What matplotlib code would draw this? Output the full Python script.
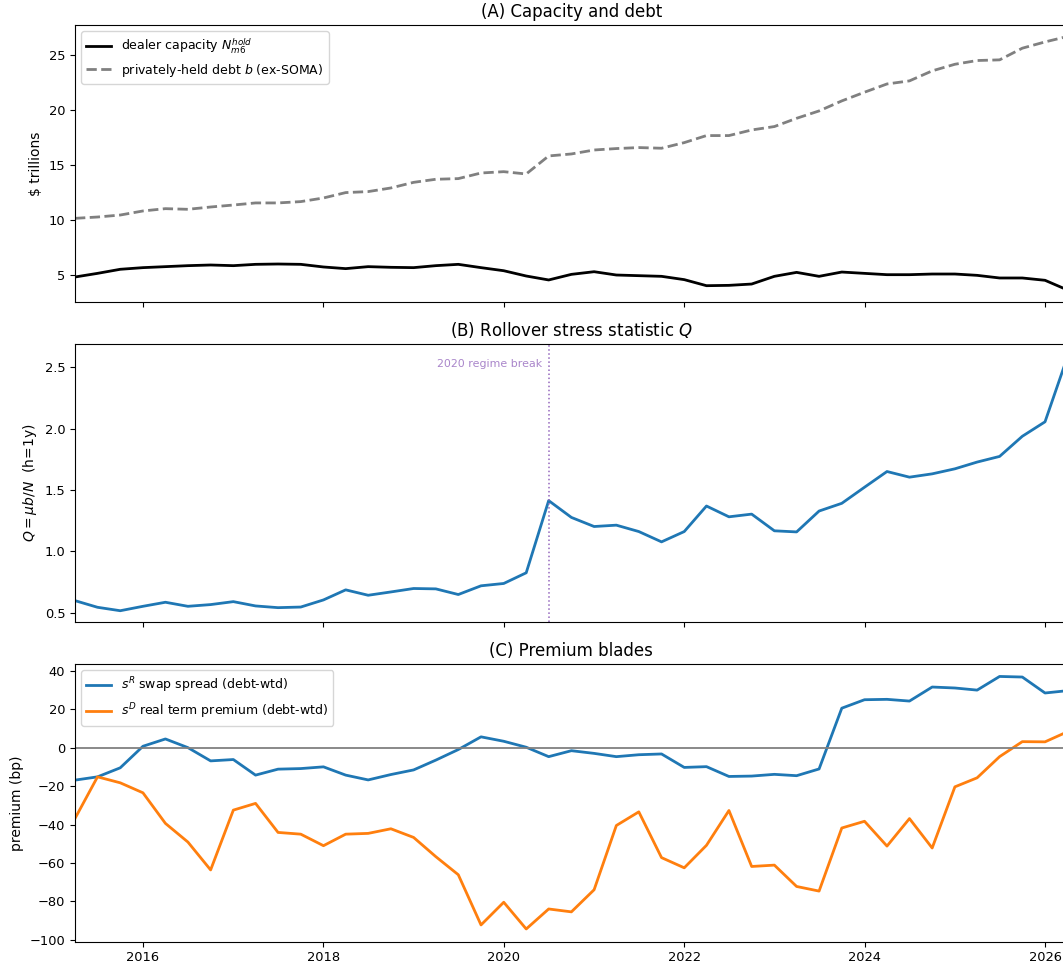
import numpy as np
import pandas as pd
import matplotlib
matplotlib.use("Agg")
import matplotlib.pyplot as plt
import matplotlib.dates as mdates

plt.rcParams['font.size'] = 9.4
plt.rcParams['axes.labelsize'] = 10

# quarterly observations, 2015Q2 .. 2026Q2
dates = pd.date_range("2015-04-01", periods=45, freq="QS")

dealer_capacity = [4.85, 5.18, 5.55, 5.70, 5.79, 5.88, 5.94, 5.88, 6.00, 6.03, 6.00,
                   5.76, 5.61, 5.79, 5.73, 5.70, 5.88, 6.00, 5.70, 5.42, 4.94,
                   4.58, 5.09, 5.33, 5.03, 4.97, 4.91, 4.61, 4.06, 4.09, 4.21,
                   4.91, 5.27, 4.91, 5.30, 5.18, 5.06, 5.06, 5.12, 5.12, 5.00,
                   4.76, 4.76, 4.55, 3.68]
private_debt = [10.18, 10.30, 10.48, 10.85, 11.06, 11.00, 11.21, 11.39, 11.58, 11.58, 11.70,
                12.03, 12.52, 12.61, 12.94, 13.45, 13.73, 13.79, 14.30, 14.42, 14.21,
                15.85, 16.03, 16.39, 16.52, 16.61, 16.55, 17.06, 17.70, 17.70, 18.21,
                18.52, 19.27, 19.94, 20.85, 21.64, 22.39, 22.67, 23.58, 24.18, 24.52,
                24.58, 25.64, 26.21, 26.70]
Q = [0.598, 0.544, 0.516, 0.552, 0.585, 0.552, 0.566, 0.590, 0.555, 0.541, 0.546,
     0.604, 0.686, 0.642, 0.669, 0.697, 0.694, 0.648, 0.719, 0.738, 0.825,
     1.413, 1.276, 1.202, 1.213, 1.161, 1.077, 1.161, 1.369, 1.281, 1.303,
     1.167, 1.158, 1.328, 1.391, 1.522, 1.650, 1.604, 1.631, 1.672, 1.727,
     1.773, 1.937, 2.055, 2.580]
swap_spread = [-16.9, -15.2, -10.5, 0.7, 4.5, 0.0, -6.9, -6.2, -14.3, -11.2, -10.9,
               -10.0, -14.3, -16.8, -14.0, -11.6, -6.5, -1.0, 5.6, 3.3, 0.2,
               -4.7, -1.6, -3.0, -4.7, -3.7, -3.3, -10.3, -9.9, -15.0, -14.8,
               -13.9, -14.6, -11.1, 20.5, 24.9, 25.1, 24.2, 31.5, 31.0, 29.9,
               37.0, 36.7, 28.4, 29.6]
real_term_premium = [-36.8, -15.2, -18.3, -23.5, -39.4, -49.1, -63.6, -32.5, -29.0, -44.1, -45.0,
                     -51.0, -45.0, -44.6, -42.2, -46.7, -56.7, -66.1, -92.2, -80.4, -94.3,
                     -83.9, -85.4, -73.9, -40.5, -33.4, -57.2, -62.5, -50.8, -32.7, -61.8,
                     -61.1, -72.2, -74.6, -41.8, -38.3, -51.2, -36.9, -52.2, -20.4, -15.7,
                     -4.7, 3.1, 3.0, 8.2]
regime_break = pd.Timestamp("2020-07-01")

fig = plt.figure(figsize=(10.63, 9.68), dpi=100)
left, width = 0.0706, 0.9334
axA = fig.add_axes([left, 0.6877, width, 0.2865])
axB = fig.add_axes([left, 0.3578, width, 0.2866], sharex=axA)
axC = fig.add_axes([left, 0.0272, width, 0.2869], sharex=axA)

# (A) capacity vs debt
axA.plot(dates, dealer_capacity, color="black", lw=2, label=r"dealer capacity $N^{hold}_{m6}$")
axA.plot(dates, private_debt, color="gray", lw=2, ls="--", label=r"privately-held debt $b$ (ex-SOMA)")
axA.set_ylabel(r"\$ trillions")
axA.set_title("(A) Capacity and debt", fontsize=12)
axA.set_ylim(2.55, 27.75)
axA.legend(loc="upper left", fontsize=9)
axA.tick_params(labelbottom=False)

# (B) rollover stress
axB.plot(dates, Q, color="tab:blue", lw=2)
axB.axvline(regime_break, color="tab:purple", ls=":", lw=1.1)
axB.annotate("2020 regime break", xy=(regime_break, 2.527), xytext=(-5, 0),
             textcoords="offset points", ha="right", va="center",
             fontsize=7.9, color="tab:purple", alpha=0.8)
axB.set_ylabel(r"$Q=\mu b/N$  (h=1y)")
axB.set_title(r"(B) Rollover stress statistic $Q$", fontsize=12)
axB.set_ylim(0.427, 2.687)
axB.tick_params(labelbottom=False)

# (C) premium blades
axC.plot(dates, swap_spread, color="tab:blue", lw=2, label=r"$s^R$ swap spread (debt-wtd)")
axC.plot(dates, real_term_premium, color="tab:orange", lw=2, label=r"$s^D$ real term premium (debt-wtd)")
axC.axhline(0, color="gray", lw=1.3)
axC.set_ylabel("premium (bp)")
axC.set_title("(C) Premium blades", fontsize=12)
axC.set_ylim(-100.9, 43.5)
axC.legend(loc="upper left", fontsize=9)

axC.set_xlim(dates[0], dates[-1])
axC.xaxis.set_major_locator(mdates.YearLocator(2))
axC.xaxis.set_major_formatter(mdates.DateFormatter("%Y"))

fig.savefig("out.png", dpi=100)
